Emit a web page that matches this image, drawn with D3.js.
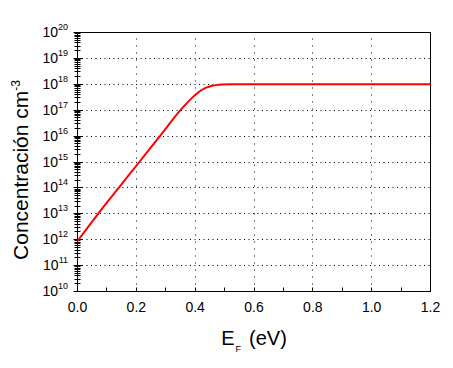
<!DOCTYPE html>
<html>
<head>
<meta charset="utf-8">
<script src="https://cdn.jsdelivr.net/npm/d3@7"></script>
<style>
  body { margin: 0; background: #fff; }
  text { font-family: "Liberation Sans", Arial, sans-serif; fill: #000; }
</style>
</head>
<body>
<svg id="chart" width="453" height="368"></svg>
<script>
// values
const ef   = [0, 0.07, 0.14, 0.21, 0.28, 0.35, 0.37, 0.392, 0.41, 0.425, 0.44, 0.455, 0.47, 0.49, 0.52, 0.6, 0.8, 1.0, 1.2];
const conc = [8.9e11, 1e13, 1e14, 1e15, 1e16, 1e17, 1.8e17, 3.2e17, 4.8e17, 6.3e17, 7.6e17, 8.6e17, 9.3e17, 9.8e17, 1e18, 1e18, 1e18, 1e18, 1e18];
const xTicks = [0, 0.2, 0.4, 0.6, 0.8, 1.0, 1.2];
const yExps = [10, 11, 12, 13, 14, 15, 16, 17, 18, 19, 20];

const pLeft = 77, pRight = 430, pTop = 32, pBottom = 291;
const svg = d3.select("#chart");

const x = d3.scaleLinear().domain([0, 1.2]).range([pLeft, pRight]);
const y = d3.scaleLog().domain([1e10, 1e20]).range([pBottom, pTop]);

const g = svg.append("g").attr("transform", "translate(0.5,0.5)");

// grid
g.selectAll(".hg").data(yExps.slice(1, -1)).enter().append("line")
  .attr("x1", pLeft).attr("x2", pRight)
  .attr("y1", d => Math.round(y(Math.pow(10, d)))).attr("y2", d => Math.round(y(Math.pow(10, d))))
  .attr("stroke", "#000").attr("stroke-dasharray", "1,3.5");
g.selectAll(".vg").data(xTicks.slice(1, -1)).enter().append("line")
  .attr("x1", d => Math.round(x(d))).attr("x2", d => Math.round(x(d)))
  .attr("y1", pBottom).attr("y2", pTop)
  .attr("stroke", "#000").attr("stroke-dasharray", "1,6");

// frame
g.append("rect").attr("x", pLeft).attr("y", pTop)
  .attr("width", pRight - pLeft).attr("height", pBottom - pTop)
  .attr("fill", "none").attr("stroke", "#000");

// x ticks (upward)
const xMinor = d3.range(0, 13).map(i => i / 10);
g.selectAll(".xt").data(xMinor).enter().append("line")
  .attr("x1", d => Math.round(x(d))).attr("x2", d => Math.round(x(d)))
  .attr("y1", pBottom).attr("y2", pBottom - 4)
  .attr("stroke", "#000");
svg.selectAll(".xl").data(xTicks).enter().append("text")
  .attr("x", d => x(d) + 0.5).attr("y", 312)
  .attr("text-anchor", "middle").attr("font-size", 14)
  .text(d => d.toFixed(1));

// y ticks (crossing the axis)
const yMinor = [];
yExps.slice(0, -1).forEach(e => { for (let k = 2; k <= 9; k++) yMinor.push(k * Math.pow(10, e)); });
g.selectAll(".ym").data(yMinor).enter().append("line")
  .attr("x1", pLeft - 3).attr("x2", pLeft + 3)
  .attr("y1", d => Math.round(y(d))).attr("y2", d => Math.round(y(d)))
  .attr("stroke", "#000");
g.selectAll(".yM").data(yExps).enter().append("line")
  .attr("x1", pLeft - 4).attr("x2", pLeft + 5)
  .attr("y1", d => Math.round(y(Math.pow(10, d)))).attr("y2", d => Math.round(y(Math.pow(10, d))))
  .attr("stroke", "#000");

const yl = svg.selectAll(".yl").data(yExps).enter().append("text")
  .attr("x", 68).attr("y", d => y(Math.pow(10, d)) + 5)
  .attr("text-anchor", "end").attr("font-size", 14);
yl.append("tspan").text("10");
yl.append("tspan").attr("dy", -7).attr("font-size", 9).text(d => d);

// curve
const pts = ef.map((d, i) => [d, conc[i]]);
g.append("path").datum(pts)
  .attr("fill", "none").attr("stroke", "#ff0000").attr("stroke-width", 2)
  .attr("d", d3.line().x(d => x(d[0])).y(d => y(d[1])).curve(d3.curveMonotoneX));

// axis titles
const xt = svg.append("text").attr("x", 254).attr("y", 345)
  .attr("text-anchor", "middle").attr("font-size", 20);
xt.append("tspan").text("E");
xt.append("tspan").attr("dy", 7).attr("dx", 1).attr("font-size", 9).text("F");
xt.append("tspan").attr("dy", -7).attr("dx", 8).text("(eV)");

const yt = svg.append("text").attr("transform", "translate(28,170) rotate(-90)")
  .attr("text-anchor", "middle").attr("font-size", 21);
yt.append("tspan").text("Concentración cm");
yt.append("tspan").attr("dy", -8).attr("font-size", 12).text("-3");
</script>
</body>
</html>
